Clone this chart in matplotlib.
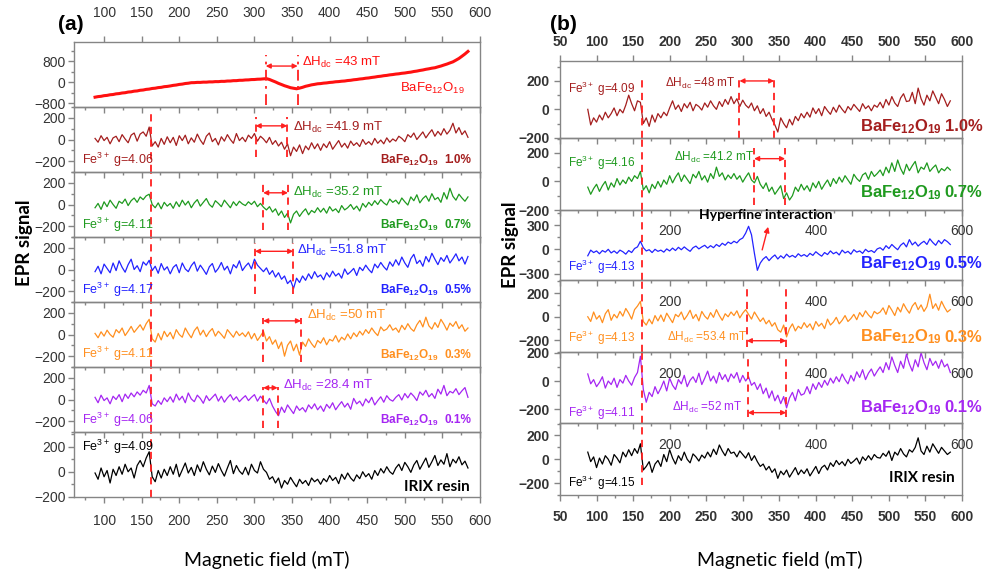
import numpy as np
import matplotlib
matplotlib.use('Agg')
import matplotlib.pyplot as plt
from matplotlib.ticker import MultipleLocator

# ---------------- data ----------------
field_min, field_max = 88, 584

a_red = [-578,-556,-545,-520,-510,-486,-476,-451,-441,-418,-408,-383,-373,-349,-340,-315,-305,-281,-270,-246,-236,-213,-203,-178,-168,
         -150,-128,-115,-92,-80,-57,-46,-26,-24,-14,-15,-5,-6,5,4,15,14,25,24,37,38,51,52,65,66,
         78,81,93,95,106,109,120,128,96,48,2,-52,-96,-142,-178,-217,-238,-257,-233,-202,-163,-137,-108,-90,-68,
         -60,-43,-34,-17,-8,9,16,30,38,56,66,85,96,114,125,144,155,174,188,208,220,240,252,272,284,
         302,313,332,343,362,376,400,416,440,458,484,503,527,543,577,608,647,683,727,768,832,898,982,1068,1165]
a_dkred = [10,-25,35,-10,20,-40,15,30,-20,45,5,-30,40,60,-15,50,70,30,115,-60,-20,-70,10,-45,25,
           -30,20,-55,35,-10,40,-40,15,-25,50,-5,-45,30,60,-20,10,-50,25,-15,45,0,-35,55,-10,20,
           -20,40,10,55,-15,30,5,-30,20,-45,-10,-60,-25,-90,-40,-150,-70,-110,-50,-130,-60,-95,-30,-85,-40,
           -100,-40,-75,-20,-90,-50,-10,-70,-35,-80,-15,-55,-30,-65,0,-45,-20,-50,10,-35,-5,-40,15,-25,5,
           -15,30,10,-20,45,20,60,0,35,70,15,55,90,30,75,40,100,50,85,150,60,110,45,80,20]
a_green = [-30,10,-45,25,-20,40,0,-35,30,10,50,-10,35,60,20,70,45,80,95,0,-30,15,-40,20,-15,
           10,-35,25,-20,40,-5,30,-30,15,45,-15,20,55,0,-25,35,10,-20,40,5,-30,25,-10,30,5,
           -10,25,0,30,-20,10,-25,-50,-20,-70,-40,-100,-60,-120,-80,-170,-90,-60,-110,-70,-40,-95,-55,-75,-30,
           -70,-35,-80,-20,-60,-40,-75,-10,-50,-30,0,-45,-15,-60,10,-25,20,-10,35,0,45,15,-5,50,20,
           40,5,60,25,-5,70,35,90,15,55,80,30,100,45,65,20,110,50,150,75,40,95,60,30,70]
a_blue = [-20,30,-40,50,10,-30,60,-10,80,20,-25,45,95,0,35,-20,70,40,85,-10,30,-35,55,-5,25,
          -40,20,45,-30,60,5,-20,35,70,-15,40,0,-45,25,55,-25,10,65,-5,30,-40,45,15,80,-10,
          30,60,5,95,40,10,-20,15,-45,-10,-70,-30,-90,-60,-130,-100,-175,-80,-120,-60,-100,-40,-85,-20,-70,
          -50,-95,-30,-70,-15,-60,-35,-80,5,-45,-20,10,-55,20,-10,40,0,-30,50,15,65,25,-5,70,30,
          90,40,115,60,20,100,140,55,85,30,120,70,150,95,45,110,75,130,60,100,145,80,115,50,120]
a_orange = [10,-30,25,-15,40,0,-25,45,15,60,-10,30,75,20,55,90,40,100,140,-40,-70,10,-50,30,-20,
            20,-40,45,0,-25,60,10,-30,35,70,-5,40,-20,25,55,-15,30,0,-35,45,10,-25,30,-10,15,
            -20,25,-40,10,-55,-15,30,-60,-20,-90,-50,-130,-70,-200,-100,-60,-150,-90,-190,-70,-110,-40,-85,-120,-55,
            -80,-30,-95,-45,-60,-10,-70,-25,-50,5,-40,15,-20,30,-5,45,10,60,20,-10,70,35,50,90,40,
            60,20,85,45,100,55,30,90,130,70,160,80,50,110,65,140,95,40,105,75,120,55,90,30,60]
a_purple = [20,-30,40,-10,15,-40,30,0,45,-20,50,10,60,25,70,40,85,60,130,-40,-60,-10,-45,15,-20,
            25,-25,50,-5,30,-30,60,5,-20,40,10,-35,35,-10,20,50,-15,30,-25,15,45,-5,25,-20,10,
            35,-10,20,45,-15,30,-5,-40,10,-60,-110,-150,-70,-120,-50,-90,-130,-60,-100,-75,-115,-50,-85,-40,-95,
            -60,-110,-45,-80,-30,-95,-55,-20,-70,-35,-90,10,-40,-15,-60,5,-30,20,-50,-10,25,-25,35,0,-15,
            20,45,-5,55,15,60,30,-10,70,40,85,25,55,10,95,50,130,35,75,60,100,45,80,110,20]
a_black = [-10,-60,30,-40,10,-90,20,-30,40,-20,60,0,30,-50,50,90,40,110,160,-40,-80,10,-50,20,-30,
           40,-20,60,-40,15,70,-10,35,-30,55,0,80,20,-25,45,-5,65,10,-35,30,90,-15,50,5,-20,
           35,-25,60,10,-10,80,20,-5,-60,-40,-90,-50,-130,-70,-100,-45,-85,-120,-60,-95,-70,-110,-50,-80,-60,
           -100,-55,-80,-30,-70,-45,-95,-20,-60,-10,-50,-75,-25,-55,0,-40,-15,-60,10,-30,25,-10,40,0,-20,
           30,60,10,75,40,-5,55,90,20,65,110,35,80,130,50,95,60,145,40,100,70,120,55,85,30]

b_dkred = [0,-110,-60,-90,-40,-75,-20,-60,-30,10,-45,0,-25,30,100,40,-10,60,50,-100,-60,-120,-40,-90,-30,
           -60,-20,-45,10,60,0,30,-15,40,10,50,-10,35,20,-5,45,15,60,25,0,55,20,70,35,90,
           40,75,20,65,30,10,45,-10,25,-30,5,-50,-20,-70,-110,-160,-60,-100,-130,-70,-110,-50,-80,-30,-60,
           -20,-55,10,-30,5,-45,20,-10,-35,15,-20,30,0,-25,20,-5,35,10,-15,40,5,25,-10,30,15,
           50,10,70,30,90,45,20,80,110,55,60,120,40,150,75,30,100,60,130,85,40,110,70,20,60]
b_green = [-40,-90,-50,-20,-70,-30,0,-60,-10,-40,20,-25,10,-15,30,0,40,20,70,-60,-30,-80,-20,-50,0,
           -40,10,-20,40,-10,30,60,0,45,15,-15,50,25,70,10,40,-5,55,20,100,35,60,10,45,20,
           55,15,40,-5,30,60,10,-10,35,-20,-50,-10,-70,-40,-90,-60,-30,-120,-80,-130,-100,-40,-70,-20,-60,
           -30,-70,-10,-45,0,-55,-20,10,-35,20,-15,30,-5,40,10,-20,50,20,0,45,60,15,70,35,55,
           80,40,100,60,130,70,150,90,50,120,75,110,140,60,100,85,130,70,95,115,60,90,75,100,80]
b_blue = [-80,-10,-40,-20,-55,-15,-35,0,-45,-20,-50,-10,-30,-60,-15,-40,10,30,100,20,-20,-5,-40,0,-25,
          -10,-35,5,-20,15,-15,25,-5,30,0,-25,20,40,5,30,50,15,45,20,60,35,75,50,90,70,
          100,80,120,140,200,285,180,-50,-260,-170,-120,-90,-140,-100,-70,-120,-80,-110,-60,-95,-75,-100,-55,-85,-65,
          -90,-50,-75,-30,-60,-85,-40,-65,-20,-55,-35,-70,-10,-45,-25,-60,-5,-35,-20,-50,0,-30,-15,-40,5,
          20,-10,45,10,60,25,-5,50,80,30,120,55,90,40,75,100,60,130,85,50,110,70,120,95,60]
b_orange = [0,-40,40,-20,10,-50,25,60,-30,20,-10,45,5,70,30,-20,60,90,130,-40,-70,-20,-60,10,-35,
            15,-40,30,-10,-50,20,0,40,-25,10,55,-15,20,-35,45,5,-20,35,-5,60,10,-30,25,0,40,
            10,50,-10,30,60,20,-20,40,0,-40,-10,-60,-30,-80,-50,-110,-130,-70,-170,-100,-60,-120,-80,-100,-50,
            -90,-60,-110,-40,-80,-55,-100,-20,-70,-45,-5,-60,-30,10,-40,-15,20,-25,35,0,50,15,-10,45,25,
            40,75,20,95,55,10,80,40,110,65,30,90,120,60,100,45,85,190,70,110,55,130,80,40,60]
b_purple = [50,-20,10,-40,-10,30,-50,0,-25,20,-45,10,-15,40,0,-30,25,60,175,-60,-150,-80,-110,-40,-90,
            -50,0,-70,20,-30,-60,10,-20,40,-40,5,30,-10,55,-25,20,70,0,35,-15,60,10,45,-5,50,
            20,60,-10,40,0,30,-30,-10,-60,-20,-90,-50,-120,-70,-140,-100,-160,-110,-190,-120,-80,-140,-60,-100,-90,
            -40,-90,-20,-60,-10,-45,5,-30,20,-15,30,-5,50,10,-20,40,0,65,25,80,10,55,85,35,70,
            100,60,130,80,170,110,60,140,90,190,120,70,150,100,200,130,80,160,110,140,90,150,100,120,60]
b_black = [60,-20,20,-70,10,-40,30,0,-50,40,10,-30,60,20,80,30,90,50,130,-90,-60,-20,-110,-40,-10,
           -60,40,-20,80,10,-40,30,-10,60,0,-30,45,20,-15,35,10,60,20,85,40,120,70,30,90,50,
           60,20,70,40,10,55,-10,30,-20,-60,-40,-90,-60,-110,-80,-160,-100,-130,-90,-150,-110,-70,-130,-90,-120,
           -80,-140,-100,-60,-120,-70,-50,-90,-30,-60,-10,-45,-20,-55,0,-35,-15,10,-40,20,-10,30,-5,40,15,
           10,50,25,70,-10,60,35,90,45,20,80,60,100,180,70,40,110,60,130,90,50,100,70,40,60]

a_series = [a_red, a_dkred, a_green, a_blue, a_orange, a_purple, a_black]
b_series = [b_dkred, b_green, b_blue, b_orange, b_purple, b_black]

a_g = [None, '4.06', '4.11', '4.17', '4.11', '4.06', '4.09']
b_g = ['4.09', '4.16', '4.13', '4.13', '4.11', '4.15']
a_pct = [None, '1.0%', '0.7%', '0.5%', '0.3%', '0.1%', None]
b_pct = ['1.0%', '0.7%', '0.5%', '0.3%', '0.1%', None]
a_dh = ['43', '41.9', '35.2', '51.8', '50', '28.4', None]
b_dh = ['48', '41.2', None, '53.4', '52', None]
a_dh_lines = [(315, 357.5), (301.6, 343.6), (311.6, 344.6), (300.7, 351.6), (311.6, 361.9), (311.6, 330.9), None]
b_dh_lines = [(295.5, 343), (315.6, 358), None, (305.6, 359.4), (307, 359.4), None]
fe_line_a = 163
fe_line_b = 162.7
hyperfine_arrow = (326.6, 334.8)
b_inner_ticks = [200, 400, 600]

a_ylims = [(-952, 1524), (-300, 300), (-300, 300), (-300, 300), (-300, 300), (-300, 300), (-202, 318)]
b_ylims = [(-200, 341), (-200, 306), (-380, 487), (-300, 310), (-299, 203), (-300, 302)]

# ---------------- style / layout ----------------
W, H = 987, 571
MAIN = ['Liberation Sans', 'DejaVu Sans']
plt.rcParams['font.family'] = MAIN
plt.rcParams['mathtext.fontset'] = 'custom'
plt.rcParams['mathtext.rm'] = 'Liberation Sans'
plt.rcParams['mathtext.it'] = 'Liberation Sans:italic'
plt.rcParams['mathtext.bf'] = 'Liberation Sans:bold'
plt.rcParams['axes.linewidth'] = 1.0

fig = plt.figure(figsize=(W / 100, H / 100), dpi=100)

a_colors = ['#ff1010', '#a41e1e', '#1f9a1f', '#2323ff', '#ff8f1f', '#a526f2', '#000000']
b_colors = ['#a41e1e', '#1f9a1f', '#2323ff', '#ff8f1f', '#a526f2', '#000000']
SPINE = '#858585'
DASH_RED = '#ff2020'


def add_ax(left, right, top, bottom):
    ax = fig.add_axes([left / W, 1 - bottom / H, (right - left) / W, (bottom - top) / H])
    ax.set_facecolor('none')
    for s in ax.spines.values():
        s.set_color(SPINE)
    return ax


def style_ax(ax, xlim, ylim, ymaj, first, last, bold, toppad, botpad, ypad):
    ax.set_xlim(*xlim)
    ax.set_ylim(*ylim)
    ax.xaxis.set_major_locator(MultipleLocator(50))
    ax.xaxis.set_minor_locator(MultipleLocator(25))
    ax.yaxis.set_major_locator(MultipleLocator(ymaj))
    ax.yaxis.set_minor_locator(MultipleLocator(ymaj / 2))
    ax.tick_params(axis='both', which='both', color=SPINE, labelcolor='#333333', labelsize=10)
    ax.tick_params(axis='both', which='major', direction='out', length=4.5, width=1)
    ax.tick_params(axis='both', which='minor', direction='out', length=2.5, width=1)
    ax.tick_params(axis='y', left=True, right=False, pad=ypad)
    ax.tick_params(axis='x', bottom=True, top=first, labelbottom=last, labeltop=first)
    if first:
        ax.tick_params(axis='x', which='major', pad=toppad)
    if last:
        ax.tick_params(axis='x', which='major', pad=botpad)
    wt = 'bold' if bold else 'normal'
    for lab in ax.get_xticklabels() + ax.get_yticklabels():
        lab.set_fontweight(wt)


def dh_text(v):
    return 'ΔH$_{\\mathrm{dc}}$ =' + v + ' mT'


def fe_text(g):
    return 'Fe$^{\\mathrm{3+}}$ g=' + g


# ---------------- panel (a) ----------------
a_bounds = [42, 107, 172, 237, 302, 367, 432, 497]
a_left, a_right = 74, 480
a_dh_pos = [(363, 0.69), (351, 0.68), (351, 0.69), (356.5, 0.80), (370, 0.80), (338, 0.72)]
a_arrow_y = [0.63, 0.71, 0.68, 0.78, 0.71, 0.68]
a_vspan = [(0.03, 0.80), (0.23, 0.85), (0.11, 0.83), (0.12, 0.91), (0.08, 0.75), (0.06, 0.69)]
a_fe_y = [None, 0.18, 0.18, 0.18, 0.20, 0.18, 0.77]
a_fe_vspan = [None, (0.0, 0.92), (0, 1), (0, 1), (0, 1), (0, 1), (0, 1)]

for k, ys in enumerate(a_series):
    ax = add_ax(a_left, a_right, a_bounds[k], a_bounds[k + 1])
    x = np.linspace(field_min, field_max, len(ys))
    ax.plot(x, ys, color=a_colors[k], lw=2.2 if k == 0 else 0.9)
    style_ax(ax, (60, 600), a_ylims[k], 800 if k == 0 else 200,
             k == 0, k == len(a_series) - 1, False, 11, 8, 1.5)
    tr = ax.get_xaxis_transform()
    col = a_colors[k]
    if a_dh_lines[k] is not None:
        x1, x2 = a_dh_lines[k]
        ls = (0, (6, 3, 1.5, 3)) if k == 0 else (0, (4, 3))
        for xv in (x1, x2):
            ax.axvline(xv, ymin=a_vspan[k][0], ymax=a_vspan[k][1], color=DASH_RED, lw=1.3, ls=ls)
        ax.annotate('', xy=(x2, a_arrow_y[k]), xytext=(x1, a_arrow_y[k]), xycoords=tr, textcoords=tr,
                    arrowprops=dict(arrowstyle='<|-|>', color=DASH_RED, lw=1, shrinkA=0, shrinkB=0,
                                    mutation_scale=7))
        ax.text(a_dh_pos[k][0], a_dh_pos[k][1], dh_text(a_dh[k]), transform=tr, color=col,
                fontsize=9.5, ha='left', va='center')
    if a_g[k] is not None:
        ax.text(70.6, a_fe_y[k], fe_text(a_g[k]), transform=tr, color=col, fontsize=9,
                ha='left', va='center')
        lo, hi = a_fe_vspan[k]
        ax.axvline(fe_line_a, ymin=lo, ymax=hi, color=DASH_RED, lw=1.3, ls=(0, (4, 3)))
    if k == 0:
        ax.text(580, 0.29, 'BaFe$_{12}$O$_{19}$', transform=tr, color=col, fontsize=9.5,
                ha='right', va='center')
    elif a_pct[k] is not None:
        ax.text(545, 0.18, 'BaFe$_{\\mathbf{12}}$O$_{\\mathbf{19}}$', transform=tr,
                color=col, fontsize=8.5, fontweight='bold', ha='right', va='center')
        ax.text(588, 0.18, a_pct[k], transform=tr,
                color=col, fontsize=8.5, fontweight='bold', ha='right', va='center')
    else:
        ax.text(586.6, 0.15, 'IRIX resin', transform=tr, color='black', fontsize=11,
                fontweight='bold', family=['Lato', 'DejaVu Sans'], ha='right', va='center')

# ---------------- panel (b) ----------------
b_bounds = [61, 137.7, 210, 280, 352.3, 423.3, 495]
b_left, b_right = 560, 962
b_dh_pos = [(241.7, 0.71), (260.8, 0.73), None, (252, 0.20), (251, 0.22)]
b_arrow_y = [0.74, 0.71, None, 0.16, 0.15]
b_vspan = [(0.0, 0.82), (0.07, 0.86), None, (0.07, 0.90), (0.09, 0.93)]
b_fe_y = [0.63, 0.65, 0.19, 0.20, 0.15, 0.17]
b_lab_y = [0.15, 0.24, 0.23, 0.21, 0.22]
b_fe_vspan = [(0.0, 0.79), (0, 1), (0, 1), (0, 1), (0, 1), (0.14, 1)]

for k, ys in enumerate(b_series):
    ax = add_ax(b_left, b_right, b_bounds[k], b_bounds[k + 1])
    x = np.linspace(field_min, field_max, len(ys))
    ax.plot(x, ys, color=b_colors[k], lw=0.9)
    style_ax(ax, (50, 600), b_ylims[k], 300 if k == 2 else 200,
             k == 0, k == len(b_series) - 1, True, 4.5, 6, 3)
    tr = ax.get_xaxis_transform()
    col = b_colors[k]
    if b_dh_lines[k] is not None:
        x1, x2 = b_dh_lines[k]
        for xv in (x1, x2):
            ax.axvline(xv, ymin=b_vspan[k][0], ymax=b_vspan[k][1], color=DASH_RED, lw=1.3, ls=(0, (4, 3)))
        ax.annotate('', xy=(x2, b_arrow_y[k]), xytext=(x1, b_arrow_y[k]), xycoords=tr, textcoords=tr,
                    arrowprops=dict(arrowstyle='<|-|>', color=DASH_RED, lw=1, shrinkA=0, shrinkB=0,
                                    mutation_scale=7))
        ax.text(b_dh_pos[k][0], b_dh_pos[k][1], dh_text(b_dh[k]), transform=tr, color=col,
                fontsize=8.5, ha='center', va='center')
    ax.text(61, b_fe_y[k], fe_text(b_g[k]), transform=tr, color=col, fontsize=8.5,
            ha='left', va='center')
    lo, hi = b_fe_vspan[k]
    ax.axvline(fe_line_b, ymin=lo, ymax=hi, color=DASH_RED, lw=1.3, ls=(0, (4, 3)))
    if b_pct[k] is not None:
        ax.text(572, b_lab_y[k], 'BaFe$_{\\mathbf{12}}$O$_{\\mathbf{19}}$', transform=tr, color=col,
                fontsize=12, fontweight='bold', ha='right', va='center', clip_on=False)
        ax.text(628, b_lab_y[k], b_pct[k], transform=tr, color=col, fontsize=12,
                fontweight='bold', ha='right', va='center', clip_on=False)
    else:
        ax.text(545.6, 0.24, 'IRIX resin', transform=tr, color='black', fontsize=11,
                fontweight='bold', family=['Lato', 'DejaVu Sans'], ha='center', va='center')
    if k >= 2:
        for tv in b_inner_ticks:
            ax.text(tv, 0.70, str(tv), transform=tr, color='#333333', fontsize=10,
                    ha='center', va='center', clip_on=False)
    if k == 2:
        ax.text(332, 0.925, 'Hyperfine interaction', transform=tr, color='black', fontsize=10,
                fontweight='bold', family=['Lato', 'DejaVu Sans'], ha='center', va='center')
        ax.annotate('', xy=(hyperfine_arrow[1], 0.76), xytext=(hyperfine_arrow[0], 0.43),
                    xycoords=tr, textcoords=tr,
                    arrowprops=dict(arrowstyle='-|>', color=DASH_RED, lw=1, shrinkA=0, shrinkB=0,
                                    mutation_scale=8))

# ---------------- figure-level text ----------------
def fig_text(px, py, s, **kw):
    fig.text(px / W, 1 - py / H, s, **kw)


fig_text(71, 25, '(a)', fontsize=15, fontweight='bold', ha='center', va='center')
fig_text(563, 25, '(b)', fontsize=15, fontweight='bold', ha='center', va='center')
for px, py in [(25, 243), (511, 245)]:
    fig_text(px, py, 'EPR signal', fontsize=13.5, fontweight='bold', family=['Lato', 'DejaVu Sans'],
             rotation=90, ha='center', va='center')
for px in (267, 780):
    fig_text(px, 560, 'Magnetic field (mT)', fontsize=14, family=['Lato', 'DejaVu Sans'],
             ha='center', va='center')

fig.savefig('out.png', dpi=100)
